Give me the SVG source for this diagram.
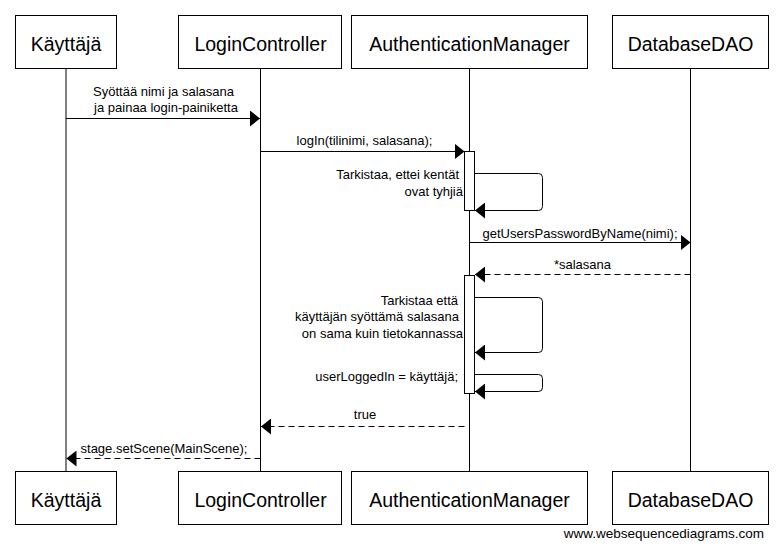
<svg xmlns="http://www.w3.org/2000/svg" width="783" height="549" viewBox="0 0 783 549">
<style>
.box{fill:#fff;stroke:#000;stroke-width:1}
.life{stroke:#000;stroke-width:1}
.ttl{font-family:"Liberation Sans",Arial,sans-serif;font-size:19.5px;fill:#000;text-anchor:middle}
.msg{font-family:"Liberation Sans",Arial,sans-serif;font-size:13px;fill:#000}
.mid{text-anchor:middle}
.end{text-anchor:end}
.ln{fill:none;stroke:#000;stroke-width:1}
.dash{stroke-dasharray:6,4}
.act{fill:#fff;stroke:#000;stroke-width:1}
</style>
<defs>
<marker id="ah" viewBox="0 0 10 16" refX="10" refY="8" markerWidth="10" markerHeight="16" markerUnits="userSpaceOnUse" orient="auto">
<path d="M0,0 L10,8 L0,16 Z" fill="#000"/>
</marker>
</defs>
<rect width="783" height="549" fill="#fff"/>
<g id="lifelines">
<line class="life" x1="66" y1="69" x2="66" y2="471"/>
<line class="life" x1="260.5" y1="69" x2="260.5" y2="471"/>
<line class="life" x1="469.5" y1="69" x2="469.5" y2="471"/>
<line class="life" x1="690.5" y1="69" x2="690.5" y2="471"/>
</g>
<g id="node-kayttaja">
<rect class="box" x="15.5" y="15.5" width="101" height="53"/>
<text class="ttl" x="66" y="50.5">Käyttäjä</text>
<rect class="box" x="15.5" y="471.5" width="101" height="53"/>
<text class="ttl" x="66" y="506.5">Käyttäjä</text>
</g>
<g id="node-logincontroller">
<rect class="box" x="178.5" y="15.5" width="163" height="53"/>
<text class="ttl" x="260.5" y="50.5">LoginController</text>
<rect class="box" x="178.5" y="471.5" width="163" height="53"/>
<text class="ttl" x="260.5" y="506.5">LoginController</text>
</g>
<g id="node-authenticationmanager">
<rect class="box" x="351.5" y="15.5" width="236" height="53"/>
<text class="ttl" x="469.5" y="50.5">AuthenticationManager</text>
<rect class="box" x="351.5" y="471.5" width="236" height="53"/>
<text class="ttl" x="469.5" y="506.5">AuthenticationManager</text>
</g>
<g id="node-databasedao">
<rect class="box" x="612.5" y="15.5" width="156" height="53"/>
<text class="ttl" x="690.5" y="50.5">DatabaseDAO</text>
<rect class="box" x="612.5" y="471.5" width="156" height="53"/>
<text class="ttl" x="690.5" y="506.5">DatabaseDAO</text>
</g>
<g id="activations">
<rect class="act" x="464.5" y="151.5" width="10" height="59"/>
<rect class="act" x="464.5" y="275.5" width="10" height="118"/>
</g>
<g id="connectors">
<line class="ln" x1="66" y1="118.5" x2="260" y2="118.5" marker-end="url(#ah)"/>
<text class="msg mid" x="163.5" y="96">Syöttää nimi ja salasana</text>
<text class="msg mid" x="166" y="112"> ja painaa login-painiketta</text>

<line class="ln" x1="260.5" y1="151.5" x2="464.5" y2="151.5" marker-end="url(#ah)"/>
<text class="msg mid" x="364.5" y="145">logIn(tilinimi, salasana);</text>

<path class="ln" d="M474.5,173.5 H538.5 Q542.5,173.5 542.5,177.5 V206.5 Q542.5,210.5 538.5,210.5 H475" marker-end="url(#ah)"/>
<text class="msg end" x="459" y="179">Tarkistaa, ettei kentät</text>
<text class="msg end" x="463" y="196">ovat tyhjiä</text>

<line class="ln" x1="469.5" y1="242.5" x2="690.5" y2="242.5" marker-end="url(#ah)"/>
<text class="msg mid" x="580" y="238">getUsersPasswordByName(nimi);</text>

<line class="ln dash" x1="690.5" y1="274.5" x2="475" y2="274.5" marker-end="url(#ah)"/>
<text class="msg mid" x="582.5" y="269">*salasana</text>

<path class="ln" d="M474.5,297.5 H538.5 Q542.5,297.5 542.5,301.5 V348.5 Q542.5,352.5 538.5,352.5 H475" marker-end="url(#ah)"/>
<text class="msg end" x="458" y="305">Tarkistaa että</text>
<text class="msg end" x="459" y="321">käyttäjän syöttämä salasana</text>
<text class="msg end" x="463" y="338">on sama kuin tietokannassa</text>

<path class="ln" d="M474.5,374.5 H538.5 Q542.5,374.5 542.5,378.5 V387.5 Q542.5,391.5 538.5,391.5 H475" marker-end="url(#ah)"/>
<text class="msg end" x="458" y="381">userLoggedIn = käyttäjä;</text>

<line class="ln dash" x1="464.5" y1="426.5" x2="261" y2="426.5" marker-end="url(#ah)"/>
<text class="msg mid" x="365" y="419">true</text>

<line class="ln dash" x1="260.5" y1="458.5" x2="66.5" y2="458.5" marker-end="url(#ah)"/>
<text class="msg mid" x="164" y="453">stage.setScene(MainScene);</text>
</g>
<text class="msg end" x="764" y="538" style="font-size:13.5px">www.websequencediagrams.com</text>
</svg>
